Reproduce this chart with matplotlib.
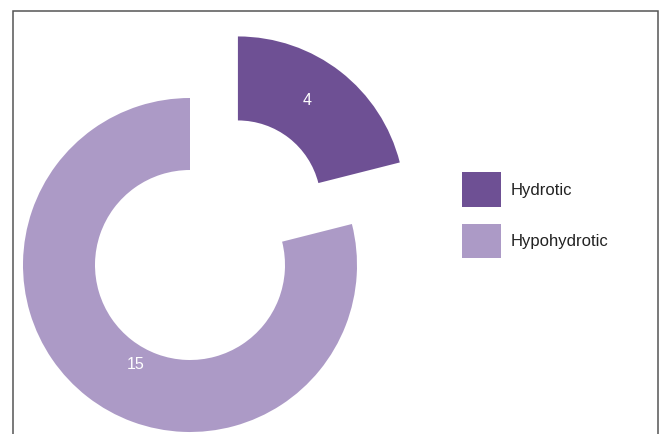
import numpy as np
import matplotlib
matplotlib.use('Agg')
import matplotlib.pyplot as plt
from matplotlib.patches import Rectangle

plt.rcParams['font.family'] = ['Liberation Sans', 'DejaVu Sans']

# ── Data ──────────────────────────────────────────────────────────────────────
labels = ["Hydrotic", "Hypohydrotic"]
counts = [4, 15]
colors = ["#6e5094", "#ac9ac6"]

# ── Plot (axes in pixel units of the 661x434 canvas, y up) ────────────────────
W, H = 661, 434
fig = plt.figure(figsize=(W / 100, H / 100), dpi=100)
ax = fig.add_axes([0, 0, 1, 1])

total = sum(counts)
R = 167
wedges, _, autotexts = ax.pie(
    counts, colors=colors, radius=R, center=(190, H - 265),
    startangle=90, counterclock=False, explode=[78, 0],
    autopct=lambda p: f"{round(p * total / 100)}", pctdistance=0.72,
    wedgeprops=dict(width=72, linewidth=0),
    textprops=dict(color='white', fontsize=11.5), frame=True)
ax.set_xlim(0, W)
ax.set_ylim(0, H)
ax.set_aspect('equal')
ax.axis('off')
wedges[0].set_width(84)   # exploded slice is drawn a bit thicker in the original

# nudge the value labels off the slice mid-angles like the original
for w, t, dtheta, dist in zip(wedges, autotexts, [4, 9], [0.74, 0.68]):
    th = np.deg2rad((w.theta1 + w.theta2) / 2 + dtheta)
    cx, cy = w.center
    t.set_position((cx + dist * R * np.cos(th), cy + dist * R * np.sin(th)))

fs = 12
fpx = fs * 100 / 72
ax.legend(wedges, labels, loc='upper left',
          bbox_to_anchor=(461.7 / W, 1 - 172.3 / H), bbox_transform=fig.transFigure,
          frameon=False, fontsize=fs, borderpad=0, borderaxespad=0,
          handlelength=39 / fpx, handleheight=3.08 * 11 / fs,
          labelspacing=16.7 / fpx, handletextpad=10 / fpx,
          labelcolor='#222222')

# open-bottom border frame
fig.add_artist(Rectangle((13 / W, -0.05), (658.3 - 13) / W, 1.05 - 11 / H,
                         transform=fig.transFigure, fill=False,
                         edgecolor='#555555', linewidth=1.1))

plt.savefig("out.png", dpi=100)
